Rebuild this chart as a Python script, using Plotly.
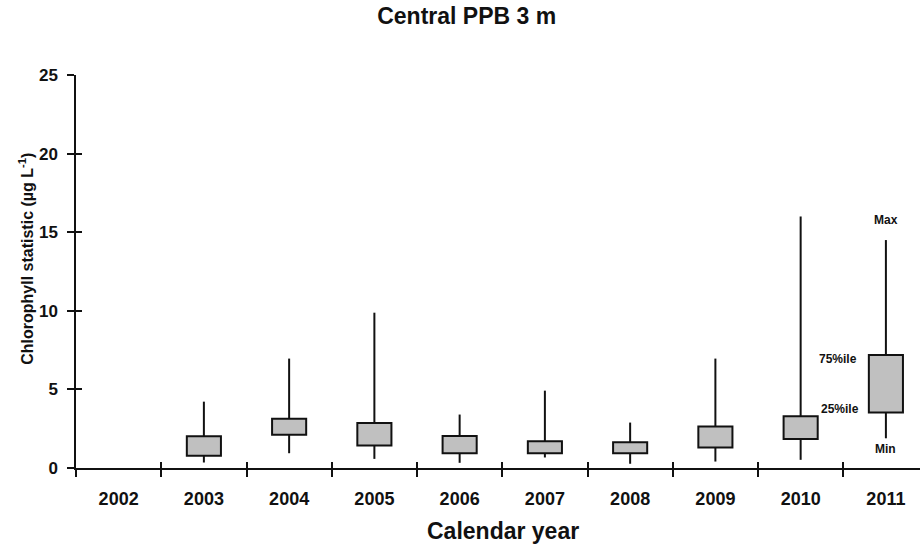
import plotly.graph_objects as go

# Chlorophyll summary statistics by calendar year (µg/L)
years = ["2002", "2003", "2004", "2005", "2006", "2007", "2008", "2009", "2010", "2011"]
box_years = ["2003", "2004", "2005", "2006", "2007", "2008", "2009", "2010", "2011"]
chl_min = [0.35, 0.94, 0.58, 0.33, 0.67, 0.27, 0.41, 0.52, 1.89]
chl_p25 = [0.78, 2.11, 1.43, 0.94, 0.94, 0.94, 1.30, 1.84, 3.53]
chl_p75 = [2.02, 3.13, 2.87, 2.04, 1.70, 1.64, 2.64, 3.29, 7.19]
chl_max = [4.22, 6.96, 9.88, 3.40, 4.92, 2.89, 6.96, 16.0, 14.5]

y_ticks = [0, 5, 10, 15, 20, 25]

FONT = "Liberation Sans, Arial, Helvetica, sans-serif"
INK = "#111111"

pos = {y: i for i, y in enumerate(years)}
xs = [pos[y] for y in box_years]
x_range = [-0.5, len(years) - 0.6]
boundaries = [i - 0.5 for i in range(len(years) + 1)]

# whiskers: min -> 25th percentile and 75th percentile -> max
wx, wy = [], []
for x, lo, q1, q3, hi in zip(xs, chl_min, chl_p25, chl_p75, chl_max):
    wx += [x, x, None, x, x, None]
    wy += [lo, q1, None, q3, hi, None]

fig = go.Figure()
fig.add_trace(go.Scatter(
    x=wx, y=wy, mode="lines", line=dict(color=INK, width=2),
    hoverinfo="skip", showlegend=False,
))
# interquartile boxes
fig.add_trace(go.Bar(
    x=xs,
    base=chl_p25,
    y=[q3 - q1 for q1, q3 in zip(chl_p25, chl_p75)],
    width=0.4,
    marker=dict(color="#c0c0c0", line=dict(color=INK, width=2)),
    hoverinfo="skip", showlegend=False,
))

# companion axes carry the inward half of each tick mark
fig.add_trace(go.Scatter(x=x_range, y=[0, 25], xaxis="x2", yaxis="y2",
                         mode="markers", marker=dict(opacity=0),
                         hoverinfo="skip", showlegend=False))

fig.update_layout(
    width=920, height=551,
    margin=dict(l=76, r=0, t=75, b=82.5),
    plot_bgcolor="white", paper_bgcolor="white",
    font=dict(family=FONT, color=INK),
    xaxis=dict(
        range=x_range, tickmode="array", tickvals=list(range(len(years))),
        ticktext=years, ticks="", showgrid=False, zeroline=False,
        showline=True, linecolor=INK, linewidth=1.5,
        tickfont=dict(size=18, weight="bold", family=FONT),
        ticklabelstandoff=14,
        minor=dict(tickmode="array", tickvals=boundaries, ticks="outside",
                   ticklen=7, tickwidth=1.5, tickcolor=INK, showgrid=False),
    ),
    yaxis=dict(
        range=[0, 25], tickmode="array", tickvals=y_ticks,
        ticks="outside", ticklen=7, tickwidth=1.5, tickcolor=INK,
        showgrid=False, zeroline=False, showline=True, linecolor=INK,
        linewidth=1.5, tickfont=dict(size=17, weight="bold", family=FONT),
        ticklabelstandoff=6,
    ),
    xaxis2=dict(
        overlaying="x", anchor="y2", side="bottom", range=x_range,
        tickmode="array", tickvals=boundaries, ticks="inside", ticklen=6,
        tickwidth=1.5, tickcolor=INK, showticklabels=False, showgrid=False,
        zeroline=False, showline=False,
    ),
    yaxis2=dict(
        overlaying="y", anchor="x2", side="left", range=[0, 25],
        tickmode="array", tickvals=y_ticks, ticks="inside", ticklen=6,
        tickwidth=1.5, tickcolor=INK, showticklabels=False, showgrid=False,
        zeroline=False, showline=False,
    ),
    title=dict(
        text="Central PPB 3 m", x=466.7 / 920, xref="container", xanchor="center",
        y=1 - 16 / 551, yref="container", yanchor="middle",
        font=dict(size=23, weight="bold", family=FONT),
    ),
)

# axis titles
fig.add_annotation(text="Calendar year", xref="paper", yref="paper",
                   x=(503 - 76) / 844, y=-(531.7 - 468.5) / 393.5,
                   xanchor="center", yanchor="middle", showarrow=False,
                   font=dict(size=23, weight="bold", family=FONT))
fig.add_annotation(text="Chlorophyll statistic (µg L<sup>-1</sup>)",
                   xref="paper", yref="paper",
                   x=-(76 - 26) / 844, y=(468.5 - 259) / 393.5,
                   xanchor="center", yanchor="middle", textangle=-90,
                   showarrow=False,
                   font=dict(size=16, weight="bold", family=FONT))

# key labels on the last box
last = len(box_years) - 1
lx = xs[last]
key_font = dict(size=12, weight="bold", family=FONT)
fig.add_annotation(text="Max", x=lx, y=chl_max[last], xanchor="center",
                   yanchor="bottom", yshift=11, showarrow=False, font=key_font)
fig.add_annotation(text="Min", x=lx, y=chl_min[last], xanchor="center",
                   yanchor="top", yshift=-2, showarrow=False, font=key_font)
fig.add_annotation(text="75%ile", x=lx - 0.2, y=chl_p75[last], xanchor="right",
                   yanchor="middle", xshift=-10, yshift=-4, showarrow=False,
                   font=key_font)
fig.add_annotation(text="25%ile", x=lx - 0.2, y=chl_p25[last], xanchor="right",
                   yanchor="middle", xshift=-8, yshift=4, showarrow=False,
                   font=key_font)

fig.write_html("out.html")
